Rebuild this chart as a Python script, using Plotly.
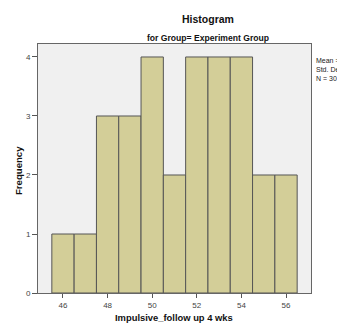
import numpy as np
import plotly.graph_objects as go

# Histogram bins (width 1, centred on whole scores) and their counts
bin_centers = [46, 47, 48, 49, 50, 51, 52, 53, 54, 55, 56]
frequencies = [1, 1, 3, 3, 4, 2, 4, 4, 4, 2, 2]
x_ticks = [46, 48, 50, 52, 54, 56]
y_ticks = [0, 1, 2, 3, 4]

n = sum(frequencies)
vals = np.repeat(bin_centers, frequencies)
mean = vals.mean()
sd = vals.std(ddof=1)

W, H = 337, 325
L, R, T, B = 38, 26, 44, 32
pw, ph = W - L - R, H - T - B

font = "Liberation Sans, Arial, sans-serif"

fig = go.Figure(go.Bar(
    x=bin_centers, y=frequencies, width=1,
    marker=dict(color="#D3CE98", line=dict(color="#555555", width=1)),
))

def px_x(p):
    return (p - L) / pw

def px_y(p):
    return 1 - (p - T) / ph

fig.update_layout(
    width=W, height=H,
    margin=dict(l=L, r=R, t=T, b=B),
    paper_bgcolor="white", plot_bgcolor="#F0F0F0",
    showlegend=False,
    font=dict(family=font, size=8, color="#333333"),
    xaxis=dict(range=[44.88, 57.12], tickvals=x_ticks, ticks="outside",
               ticklen=4, tickcolor="#555555", showgrid=False, zeroline=False,
               showline=True, linecolor="#666666", mirror=True,
               tickfont=dict(size=8, color="#444444")),
    yaxis=dict(range=[0, 4.22], tickvals=y_ticks, ticks="outside",
               ticklen=5, tickcolor="#555555", showgrid=False, zeroline=False,
               showline=True, linecolor="#666666", mirror=True,
               tickfont=dict(size=8, color="#444444")),
    annotations=[
        dict(text="<b>Histogram</b>", x=px_x(208), y=px_y(19), xref="paper", yref="paper",
             showarrow=False, font=dict(size=10.5, color="#111111"), xanchor="center", yanchor="middle"),
        dict(text="<b>for Group= Experiment Group</b>", x=px_x(208), y=px_y(38), xref="paper", yref="paper",
             showarrow=False, font=dict(size=8.6, color="#111111"), xanchor="center", yanchor="middle"),
        dict(text="<b>Impulsive_follow up 4 wks</b>", x=px_x(174), y=px_y(317), xref="paper", yref="paper",
             showarrow=False, font=dict(size=9.4, color="#111111"), xanchor="center", yanchor="middle"),
        dict(text="<b>Frequency</b>", x=px_x(18), y=px_y(171), xref="paper", yref="paper",
             showarrow=False, font=dict(size=9.6, color="#111111"), textangle=-90,
             xanchor="center", yanchor="middle"),
        dict(text=f"Mean = {mean:.2f}<br>Std. Dev. = {sd:.3f}<br>N = {n}",
             x=px_x(314), y=px_y(55), xref="paper", yref="paper", showarrow=False,
             align="left", xanchor="left", yanchor="top",
             font=dict(size=7, color="#222222")),
    ],
)

fig.write_html("out.html")
